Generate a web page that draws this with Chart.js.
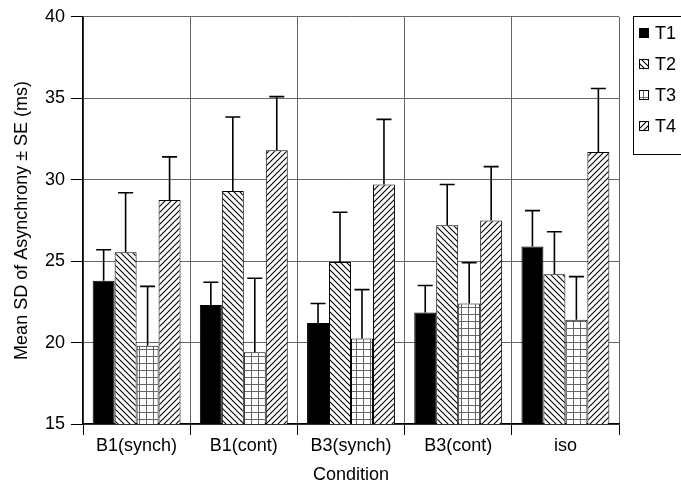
<!DOCTYPE html>
<html>
<head>
<meta charset="utf-8">
<script src="https://cdn.jsdelivr.net/npm/chart.js@4.4.1/dist/chart.umd.min.js"></script>
<style>
  html, body { margin: 0; padding: 0; background: #fff; }
  #wrap { width: 681px; height: 487px; }
</style>
</head>
<body>
<div id="wrap"><canvas id="chart" width="681" height="487"></canvas></div>
<script>
const conditions = ["B1(synch)", "B1(cont)", "B3(synch)", "B3(cont)", "iso"];
const seriesNames = ["T1", "T2", "T3", "T4"];

const t1 = [23.8, 22.3, 21.2, 21.85, 25.9];
const t2 = [25.55, 29.3, 24.95, 27.2, 24.2];
const t3 = [19.8, 19.4, 20.25, 22.4, 21.4];
const t4 = [28.75, 31.8, 29.7, 27.5, 31.7];

const t1Se = [1.9, 1.4, 1.2, 1.65, 2.2];
const t2Se = [3.65, 4.55, 3.05, 2.5, 2.6];
const t3Se = [3.65, 4.55, 3.0, 2.5, 2.65];
const t4Se = [2.65, 3.3, 4.0, 3.3, 3.9];

const yTicks = [15, 20, 25, 30, 35, 40];

const ctx = document.getElementById("chart");
const g2d = ctx.getContext("2d");

function hatch(dir) {
    const c = document.createElement("canvas");
    c.width = 6; c.height = 6;
    const g = c.getContext("2d");
    g.fillStyle = "#fff";
    g.fillRect(0, 0, 6, 6);
    g.strokeStyle = "#000";
    g.lineWidth = 1.1;
    g.beginPath();
    if (dir > 0) {
        g.moveTo(0, 6); g.lineTo(6, 0);
        g.moveTo(-1, 1); g.lineTo(1, -1);
        g.moveTo(5, 7); g.lineTo(7, 5);
    } else {
        g.moveTo(0, 0); g.lineTo(6, 6);
        g.moveTo(-1, 5); g.lineTo(1, 7);
        g.moveTo(5, -1); g.lineTo(7, 1);
    }
    g.stroke();
    return g2d.createPattern(c, "repeat");
}

function grid() {
    const c = document.createElement("canvas");
    c.width = 7; c.height = 7;
    const g = c.getContext("2d");
    g.fillStyle = "#fff";
    g.fillRect(0, 0, 7, 7);
    g.fillStyle = "#666";
    g.fillRect(6, 0, 1, 7);
    g.fillRect(0, 6, 7, 1);
    return g2d.createPattern(c, "repeat");
}

const fills = ["#000", hatch(-1), grid(), hatch(1)];
const values = [t1, t2, t3, t4];
const errors = [t1Se, t2Se, t3Se, t4Se];

// upward-only error bars with caps
const errorBars = {
    id: "errorBars",
    afterDatasetsDraw(chart) {
        const c = chart.ctx;
        const y = chart.scales.y;
        c.save();
        c.strokeStyle = "#000";
        c.lineWidth = 1.6;
        chart.data.datasets.forEach((ds, i) => {
            chart.getDatasetMeta(i).data.forEach((bar, j) => {
                const top = y.getPixelForValue(ds.data[j] + ds.se[j]);
                c.beginPath();
                c.moveTo(bar.x, bar.y);
                c.lineTo(bar.x, top);
                c.moveTo(bar.x - 7.5, top);
                c.lineTo(bar.x + 7.5, top);
                c.stroke();
            });
        });
        c.restore();
    }
};

// boxed legend at the top right
const boxLegend = {
    id: "boxLegend",
    afterDraw(chart) {
        const c = chart.ctx;
        c.save();
        c.strokeStyle = "#000";
        c.lineWidth = 1;
        c.strokeRect(633.5, 16.5, 80, 138);
        c.font = "18px 'Liberation Sans', Arial, sans-serif";
        c.textBaseline = "middle";
        const rows = [33, 64, 95, 126];
        chart.data.datasets.forEach((ds, i) => {
            const ry = rows[i];
            c.fillStyle = ds.backgroundColor;
            c.fillRect(639, ry - 5, 10, 10);
            c.strokeRect(639.5, ry - 4.5, 9, 9);
            c.fillStyle = "#000";
            c.fillText(ds.label, 655, ry + 1);
        });
        c.restore();
    }
};

Chart.defaults.font.family = "'Liberation Sans', Arial, sans-serif";
Chart.defaults.font.size = 18;
Chart.defaults.color = "#000";

new Chart(ctx, {
    type: "bar",
    data: {
        labels: conditions,
        datasets: seriesNames.map((name, i) => ({
            label: name,
            data: values[i],
            se: errors[i],
            backgroundColor: fills[i],
            borderColor: "#000",
            borderWidth: 1,
            barPercentage: 1,
            categoryPercentage: 0.82,
        })),
    },
    options: {
        responsive: false,
        animation: false,
        events: [],
        layout: { padding: { top: 16, right: 62, left: 0, bottom: 0 } },
        plugins: {
            legend: { display: false },
            tooltip: { enabled: false },
        },
        scales: {
            x: {
                grid: {
                    color: "#666",
                    tickColor: "#000",
                    tickLength: 11,
                    lineWidth: 1,
                },
                border: { color: "#000", width: 1.5 },
                ticks: { maxRotation: 0, padding: 0, color: "#000" },
                title: {
                    display: true,
                    text: "Condition",
                    padding: { top: 0, bottom: 1 },
                    font: { size: 18 },
                },
                afterFit(scale) { scale.height = 63; },
            },
            y: {
                min: 15,
                max: 40,
                afterBuildTicks(scale) {
                    scale.ticks = yTicks.map(v => ({ value: v }));
                },
                grid: {
                    color: "#666",
                    tickColor: "#000",
                    tickLength: 12,
                    lineWidth: 1,
                },
                border: { color: "#000", width: 1.5 },
                ticks: { padding: 6, color: "#000" },
                title: {
                    display: true,
                    text: "Mean SD of Asynchrony ± SE (ms)",
                    padding: { top: 11, bottom: 0 },
                    font: { size: 18 },
                },
                afterFit(scale) { scale.width = 83; },
            },
        },
    },
    plugins: [errorBars, boxLegend],
});
</script>
</body>
</html>
